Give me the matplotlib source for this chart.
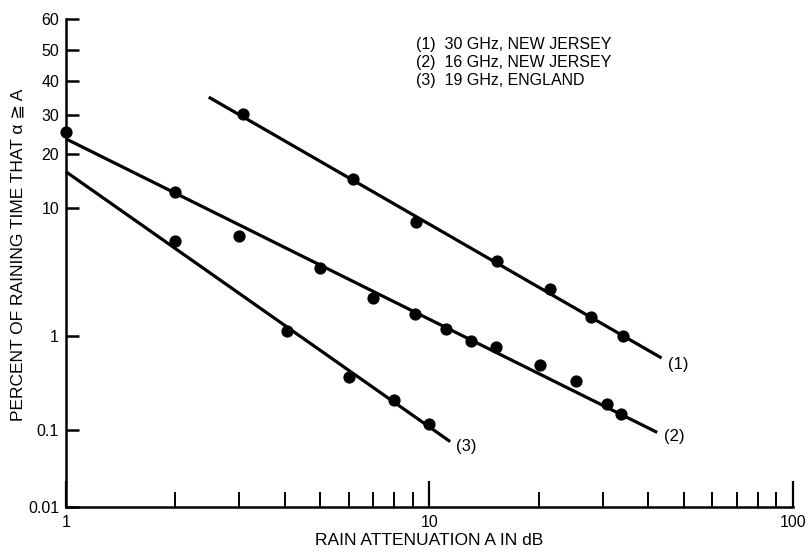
import numpy as np
import matplotlib
matplotlib.use("Agg")
import matplotlib.pyplot as plt
from matplotlib.ticker import FixedLocator, FixedFormatter, NullLocator
from statistics import NormalDist

plt.rcParams['font.family'] = ['Liberation Sans', 'DejaVu Sans']

# ---- data ----
# (1) 30 GHz, New Jersey
x1 = [3.07, 6.15, 9.2, 15.3, 21.5, 27.8, 34.1]
y1 = [30.2, 14.7, 8.1, 4.3, 2.6, 1.5, 0.99]
fit1_x = [2.47, 43.5]
fit1_y = [35.1, 0.61]
# (2) 16 GHz, New Jersey
x2 = [1.0, 2.0, 3.0, 5.0, 7.0, 9.1, 11.1, 13.0, 15.2, 20.1, 25.3, 30.7, 33.6]
y2 = [25.3, 12.4, 6.5, 3.8, 2.2, 1.57, 1.16, 0.89, 0.78, 0.52, 0.35, 0.20, 0.152]
fit2_x = [1.0, 42.3]
fit2_y = [23.5, 0.093]
# (3) 19 GHz, England
x3 = [2.0, 4.06, 6.02, 8.0, 10.0]
y3 = [6.0, 1.12, 0.39, 0.22, 0.118]
fit3_x = [1.0, 11.4]
fit3_y = [16.1, 0.072]

curve_labels = ["(1)", "(2)", "(3)"]
legend_lines = ["(1)  30 GHz, NEW JERSEY",
                "(2)  16 GHz, NEW JERSEY",
                "(3)  19 GHz, ENGLAND"]
y_ticks = [0.01, 0.1, 1, 10, 20, 30, 40, 50, 60]
y_ticklabels = ["0.01", "0.1", "1", "10", "20", "30", "40", "50", "60"]
x_major = [1, 10, 100]
x_major_labels = ["1", "10", "100"]
x_minor = [2, 3, 4, 5, 6, 7, 8, 9, 20, 30, 40, 50, 60, 70, 80, 90]

# ---- normal-probability (percent) scale ----
_nd = NormalDist()

def _fwd(p):
    a = np.asarray(p, dtype=float)
    flat = a.ravel()
    out = np.empty_like(flat)
    for i, v in enumerate(flat):
        if np.isfinite(v):
            q = min(max(v / 100.0, 1e-12), 1 - 1e-12)
            out[i] = _nd.inv_cdf(q)
        else:
            out[i] = np.nan
    return out.reshape(a.shape)

def _inv(z):
    a = np.asarray(z, dtype=float)
    flat = a.ravel()
    out = np.empty_like(flat)
    for i, v in enumerate(flat):
        out[i] = 100.0 * _nd.cdf(v) if np.isfinite(v) else np.nan
    return out.reshape(a.shape)

fig = plt.figure(figsize=(8.09, 5.52), dpi=100)
ax = fig.add_axes([66 / 809, 1 - 507 / 552, (793 - 66) / 809, (507 - 19) / 552])
ax.set_xscale('log')
ax.set_yscale('function', functions=(_fwd, _inv))
ax.set_xlim(1, 100)
ax.set_ylim(0.01, 60)

lw = 2.3
for fx, fy in [(fit1_x, fit1_y), (fit2_x, fit2_y), (fit3_x, fit3_y)]:
    ax.plot(fx, fy, color='black', lw=lw, solid_capstyle='butt', clip_on=False)
for xs, ys in [(x1, y1), (x2, y2), (x3, y3)]:
    ax.plot(xs, ys, 'o', color='black', ms=7.8, clip_on=False)

offsets = [(4.5, -4.5), (5, -3), (4.5, -3.5)]
ends = [(fit1_x[1], fit1_y[1]), (fit2_x[1], fit2_y[1]), (fit3_x[1], fit3_y[1])]
for lab, (ex, ey), off in zip(curve_labels, ends, offsets):
    ax.annotate(lab, xy=(ex, ey), xytext=off, textcoords='offset points',
                ha='left', va='center', fontsize=12)

for i, t in enumerate(legend_lines):
    fig.text(416 / 809, 1 - (44 + 18 * i) / 552, t, ha='left', va='center',
             fontsize=11.5)

# spines
for s in ['top', 'right']:
    ax.spines[s].set_visible(False)
for s in ['left', 'bottom']:
    ax.spines[s].set_linewidth(1.8)

ax.yaxis.set_major_locator(FixedLocator(y_ticks))
ax.yaxis.set_major_formatter(FixedFormatter(y_ticklabels))
ax.yaxis.set_minor_locator(NullLocator())
ax.tick_params(axis='y', which='major', direction='in', length=9.5, width=1.8,
               labelsize=11.5, pad=5)

ax.xaxis.set_major_locator(FixedLocator(x_major))
ax.xaxis.set_major_formatter(FixedFormatter(x_major_labels))
ax.xaxis.set_minor_locator(FixedLocator(x_minor))
ax.xaxis.set_minor_formatter(FixedFormatter([""] * len(x_minor)))
ax.tick_params(axis='x', which='major', direction='in', length=19, width=1.6,
               labelsize=11.5, pad=6)
ax.tick_params(axis='x', which='minor', direction='in', length=11, width=1.4)

ax.set_xlabel("RAIN ATTENUATION A IN dB", fontsize=12.5, labelpad=2)
fig.text(18 / 809, 1 - 255 / 552, "PERCENT OF RAINING TIME THAT α ≧ A",
         rotation=90, ha='center', va='center', fontsize=12.5)

fig.savefig("out.png", dpi=100)
